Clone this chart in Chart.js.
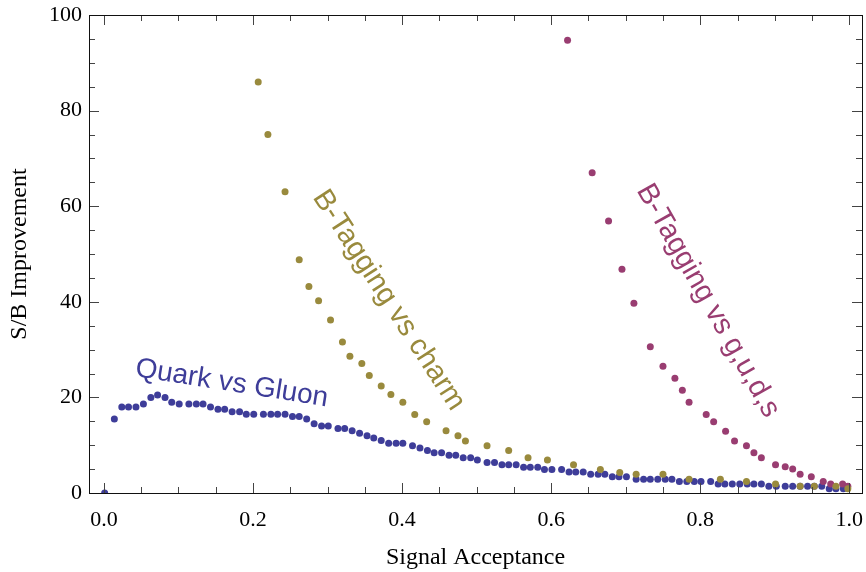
<!DOCTYPE html>
<html>
<head>
<meta charset="utf-8">
<title>S/B Improvement vs Signal Acceptance</title>
<script src="https://cdn.jsdelivr.net/npm/chart.js@4"></script>
<style>
  html, body { margin: 0; padding: 0; background: #fff; }
  #plot { display: block; }
</style>
</head>
<body>
<canvas id="plot" width="866" height="572"></canvas>
<script>
"use strict";

// Quark vs gluon tagging
const quarkX = [0.001, 0.014, 0.024, 0.033, 0.043, 0.053, 0.063, 0.072, 0.082, 0.091,
    0.101, 0.114, 0.124, 0.133, 0.143, 0.153, 0.162, 0.172, 0.182, 0.191,
    0.201, 0.214, 0.224, 0.233, 0.243, 0.253, 0.262, 0.272, 0.282, 0.292,
    0.301, 0.314, 0.323, 0.333, 0.343, 0.353, 0.362, 0.372, 0.382, 0.392,
    0.401, 0.414, 0.424, 0.434, 0.443, 0.453, 0.463, 0.472, 0.482, 0.492,
    0.501, 0.514, 0.524, 0.534, 0.543, 0.553, 0.563, 0.572, 0.582, 0.591,
    0.601, 0.614, 0.624, 0.633, 0.643, 0.653, 0.663, 0.672, 0.682, 0.691,
    0.701, 0.714, 0.724, 0.733, 0.743, 0.753, 0.762, 0.772, 0.782, 0.792,
    0.801, 0.814, 0.824, 0.833, 0.843, 0.853, 0.863, 0.872, 0.882, 0.892,
    0.902, 0.914, 0.924, 0.934, 0.944, 0.953, 0.963, 0.973, 0.982, 0.992];
const quarkY = [0, 15.5, 18, 18, 18, 18.6, 20.0, 20.5, 20.0, 19.0,
    18.6, 18.6, 18.6, 18.6, 18.0, 17.5, 17.5, 17.0, 17.0, 16.5,
    16.5, 16.5, 16.5, 16.5, 16.5, 16.0, 16.0, 15.5, 14.5, 14.0,
    14.0, 13.5, 13.5, 13.0, 12.5, 12.0, 11.5, 11.0, 10.4, 10.4,
    10.4, 9.9, 9.4, 8.9, 8.4, 8.4, 7.9, 7.9, 7.4, 7.4,
    6.9, 6.4, 6.4, 5.9, 5.9, 5.9, 5.4, 5.4, 5.4, 4.9,
    4.9, 4.9, 4.4, 4.4, 4.4, 3.9, 3.9, 3.9, 3.4, 3.4,
    3.4, 2.9, 2.9, 2.9, 2.9, 2.9, 2.9, 2.4, 2.4, 2.4,
    2.4, 2.4, 1.9, 1.9, 1.9, 1.9, 1.9, 1.9, 1.9, 1.4,
    1.4, 1.4, 1.4, 1.4, 1.4, 1.4, 1.4, 0.9, 0.9, 0.9];

// b-tagging against charm
const charmX = [0.207, 0.220, 0.243, 0.262, 0.275, 0.288, 0.304, 0.320, 0.330, 0.346,
    0.356, 0.372, 0.385, 0.401, 0.417, 0.433, 0.459, 0.475, 0.485, 0.514,
    0.543, 0.569, 0.595, 0.630, 0.666, 0.692, 0.714, 0.750, 0.785, 0.827,
    0.862, 0.901, 0.934, 0.953, 0.982, 0.998];
const charmY = [86.0, 75.0, 63.0, 48.8, 43.2, 40.2, 36.2, 31.6, 28.6, 27.1,
    24.6, 22.4, 20.6, 19.0, 16.4, 14.9, 13.0, 12.0, 10.9, 9.9,
    8.9, 7.4, 6.9, 5.9, 4.9, 4.3, 3.9, 3.9, 2.9, 2.9,
    2.4, 1.9, 1.4, 1.4, 1.4, 0.9];

// b-tagging against light jets
const lightX = [0.622, 0.655, 0.677, 0.695, 0.711, 0.733, 0.750, 0.766, 0.776, 0.785,
    0.808, 0.818, 0.834, 0.846, 0.862, 0.872, 0.882, 0.901, 0.914, 0.924,
    0.934, 0.949, 0.965, 0.975, 0.991, 0.998];
const lightY = [94.7, 67.0, 56.9, 46.8, 39.7, 30.6, 26.5, 24.0, 21.5, 19.0,
    16.4, 14.9, 12.9, 10.9, 9.9, 8.4, 7.4, 5.9, 5.5, 5.0,
    3.9, 3.4, 2.4, 1.9, 1.9, 1.4];

const seriesNames = ["Quark vs Gluon", "B-Tagging vs charm", "B-Tagging vs g,u,d,s"];

const xTickValues = [0, 0.2, 0.4, 0.6, 0.8, 1.0];
const xTickLabels = ["0.0", "0.2", "0.4", "0.6", "0.8", "1.0"];
const yTickValues = [0, 20, 40, 60, 80, 100];
const yTickLabels = ["0", "20", "40", "60", "80", "100"];

const BLUE = "#3e3d99";
const GOLD = "#998a3d";
const MAGENTA = "#993d71";

const toPoints = (xs, ys) => xs.map((x, i) => ({ x: x, y: ys[i] }));

// curve labels, placed in data coordinates and rotated along the curve
const curveLabels = [
    { text: seriesNames[0], x: 0.170, y: 21.3, angle: 9, size: 28, color: BLUE },
    { text: seriesNames[1], x: 0.373, y: 39.4, angle: 57, size: 29, color: GOLD },
    { text: seriesNames[2], x: 0.801, y: 39.4, angle: 60.5, size: 29, color: MAGENTA }
];

const curveLabelPlugin = {
    id: "curveLabels",
    afterDatasetsDraw(chart) {
        const { ctx, scales: { x, y } } = chart;
        ctx.save();
        ctx.textAlign = "center";
        ctx.textBaseline = "alphabetic";
        curveLabels.forEach(l => {
            ctx.save();
            ctx.font = l.size + "px 'Liberation Sans', Arial, sans-serif";
            ctx.translate(x.getPixelForValue(l.x), y.getPixelForValue(l.y));
            ctx.rotate(l.angle * Math.PI / 180);
            ctx.fillStyle = l.color;
            ctx.fillText(l.text, 0, 0);
            ctx.restore();
        });
        ctx.restore();
    }
};

// frame with inward ticks on all four sides
const framePlugin = {
    id: "frameTicks",
    afterDraw(chart) {
        const { ctx, chartArea: a, scales: { x, y } } = chart;
        ctx.save();
        ctx.lineWidth = 1;
        ctx.strokeStyle = "#444";
        ctx.beginPath();
        for (let i = 0; i <= 20; i++) {
            const px = Math.round(x.getPixelForValue(i * 0.05)) + 0.5;
            const len = i % 4 === 0 ? 10 : 6;
            ctx.moveTo(px, a.bottom); ctx.lineTo(px, a.bottom - len);
            ctx.moveTo(px, a.top); ctx.lineTo(px, a.top + len);
        }
        for (let i = 0; i <= 20; i++) {
            const py = Math.round(y.getPixelForValue(i * 5)) + 0.5;
            const len = i % 4 === 0 ? 10 : 6;
            ctx.moveTo(a.left, py); ctx.lineTo(a.left + len, py);
            ctx.moveTo(a.right, py); ctx.lineTo(a.right - len, py);
        }
        ctx.stroke();
        ctx.strokeStyle = "#111";
        ctx.strokeRect(Math.round(a.left) + 0.5, Math.round(a.top) + 0.5,
            Math.round(a.right - a.left), Math.round(a.bottom - a.top));
        ctx.restore();
    }
};

const serif = "'Liberation Serif', 'Times New Roman', serif";

new Chart(document.getElementById("plot"), {
    type: "scatter",
    data: {
        datasets: [
            { label: seriesNames[0], data: toPoints(quarkX, quarkY), backgroundColor: BLUE, order: 3 },
            { label: seriesNames[2], data: toPoints(lightX, lightY), backgroundColor: MAGENTA, order: 2 },
            { label: seriesNames[1], data: toPoints(charmX, charmY), backgroundColor: GOLD, order: 1 }
        ]
    },
    options: {
        responsive: false,
        animation: false,
        devicePixelRatio: 1,
        layout: { padding: { top: 15, right: 4, left: 0, bottom: 0 } },
        elements: { point: { radius: 3.5, borderWidth: 0, hoverRadius: 3.5 } },
        plugins: { legend: { display: false }, tooltip: { enabled: false } },
        scales: {
            x: {
                type: "linear",
                min: -0.02,
                max: 1.017,
                grid: { display: false, drawTicks: false },
                border: { display: false },
                afterBuildTicks: s => { s.ticks = xTickValues.map(v => ({ value: v })); },
                afterFit: s => {
                    s.height = 79;
                    s.paddingLeft = 0;
                    s.paddingRight = 0;
                },
                ticks: {
                    padding: 14,
                    maxRotation: 0,
                    color: "#000",
                    font: { family: serif, size: 22 },
                    callback: v => xTickLabels[xTickValues.indexOf(v)]
                },
                title: {
                    display: true,
                    text: "Signal Acceptance",
                    color: "#000",
                    padding: { top: 0, bottom: 0 },
                    font: { family: serif, size: 24 }
                }
            },
            y: {
                min: 0,
                max: 100,
                grid: { display: false, drawTicks: false },
                border: { display: false },
                afterBuildTicks: s => { s.ticks = yTickValues.map(v => ({ value: v })); },
                afterFit: s => {
                    s.width = 89;
                    s.paddingTop = 0;
                    s.paddingBottom = 0;
                },
                ticks: {
                    padding: 7,
                    color: "#000",
                    font: { family: serif, size: 22 },
                    callback: v => yTickLabels[yTickValues.indexOf(v)]
                },
                title: {
                    display: true,
                    text: "S/B Improvement",
                    color: "#000",
                    padding: { top: 5, bottom: 0 },
                    font: { family: serif, size: 24 }
                }
            }
        }
    },
    plugins: [curveLabelPlugin, framePlugin]
});
</script>
</body>
</html>
